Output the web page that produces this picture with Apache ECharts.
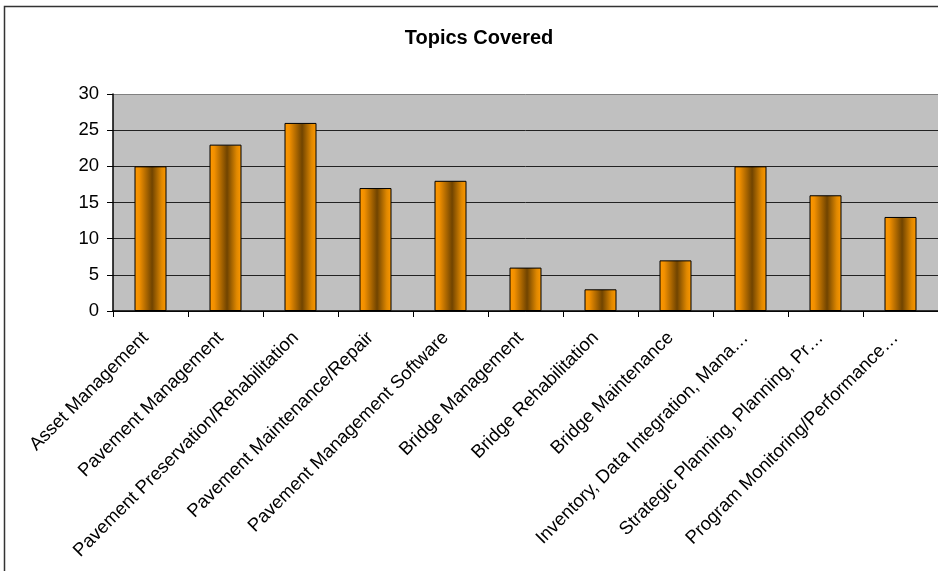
<!DOCTYPE html>
<html><head><meta charset="utf-8">
<script src="https://cdn.jsdelivr.net/npm/echarts@6/dist/echarts.min.js"></script>
<style>html,body{margin:0;padding:0;background:#fff}#c{width:938px;height:571px}</style>
</head><body><div id="c"></div>
<script>
const categories = ["Asset Management","Pavement Management","Pavement Preservation/Rehabilitation","Pavement Maintenance/Repair","Pavement Management Software","Bridge Management","Bridge Rehabilitation","Bridge Maintenance","Inventory, Data Integration, Mana\u2026","Strategic Planning, Planning, Pr\u2026","Program Monitoring/Performance\u2026"];
const values = [20,23,26,17,18,6,3,7,20,16,13];
const yTicks = [0,5,10,15,20,25,30];

const chart = echarts.init(document.getElementById('c'), null, {renderer:'canvas'});
const barColor = new echarts.graphic.LinearGradient(0,0,1,0,[
  {offset:0,color:'#FF9900'},
  {offset:0.15,color:'#F29000'},
  {offset:0.55,color:'#704400'},
  {offset:0.85,color:'#E08800'},
  {offset:1,color:'#FF9900'}
]);
chart.setOption({
  animation:false,
  backgroundColor:'#ffffff',
  title:{text:'Topics Covered',left:474,top:23,textAlign:'center',
    textStyle:{fontFamily:'Liberation Sans, Arial',fontWeight:'bold',fontSize:20,color:'#000'}},
  graphic:[{type:'rect',shape:{x:4.5,y:6.5,width:1000,height:1000},style:{fill:'none',stroke:'#333',lineWidth:1.5},silent:true}],
  grid:{left:113,right:0,top:94,bottom:260,containLabel:false,
    show:true,backgroundColor:'#C0C0C0',borderWidth:0},
  xAxis:{type:'category',data:categories,
    axisLine:{lineStyle:{color:'#000',width:1.5}},
    axisTick:{show:true,alignWithLabel:false,length:6,lineStyle:{color:'#000'}},
    axisLabel:{rotate:45,interval:0,margin:19,padding:[0,7,0,0],fontFamily:'Liberation Sans, Arial',fontSize:18.5,color:'#000'}},
  yAxis:{type:'value',min:0,max:30,interval:5,
    axisLine:{show:true,lineStyle:{color:'#000',width:1.5}},
    axisTick:{show:true,length:6,lineStyle:{color:'#000'}},
    splitLine:{show:true,lineStyle:{color:['#222','#222','#222','#222','#222','#222','#808080'],width:1}},
    axisLabel:{fontFamily:'Liberation Sans, Arial',fontSize:18.5,color:'#000',margin:14,
      formatter:function(v){return yTicks.indexOf(v)>=0?String(v):'';}}},
  series:[{type:'bar',data:values,barWidth:32,
    itemStyle:{color:barColor,borderColor:'#000',borderWidth:1}}]
});
</script></body></html>
